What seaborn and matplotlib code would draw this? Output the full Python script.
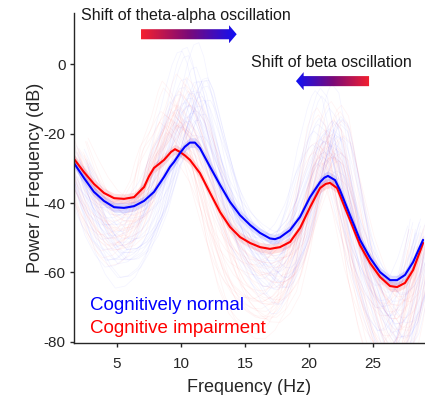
import numpy as np
import pandas as pd
import matplotlib
matplotlib.use("Agg")
import matplotlib.pyplot as plt
import seaborn as sns
from matplotlib.patches import Polygon
from matplotlib.colors import LinearSegmentedColormap

# ---- mean spectra ----
cn_freq = [1.64, 2.42, 3.20, 3.98, 4.77, 5.55, 6.33, 7.11, 7.89, 8.67, 9.14, 9.45,
           9.92, 10.30, 10.70, 11.09, 11.48, 12.27, 13.05, 13.83, 14.61, 15.39,
           16.17, 16.95, 17.34, 17.73, 18.52, 19.30, 20.08, 20.86, 21.20, 21.48,
           22.03, 22.42, 23.20, 23.98, 24.77, 25.55, 26.33, 26.88, 27.50, 28.13,
           28.91]
cn_power = [-28.5, -32.8, -36.8, -39.4, -41.2, -41.4, -40.9, -39.4, -36.8, -32.5,
            -29.6, -28.2, -25.6, -23.8, -22.6, -22.6, -24.2, -29.6, -34.8, -39.7,
            -43.5, -46.3, -48.6, -50.2, -50.4, -49.9, -47.8, -44.0, -38.3, -34.0,
            -32.7, -32.2, -33.4, -36.3, -43.5, -50.6, -55.8, -59.9, -62.2, -62.2,
            -60.7, -57.0, -50.6]

ci_freq = [1.64, 2.42, 3.20, 3.98, 4.77, 5.55, 6.33, 7.11, 7.50, 7.89, 8.30, 8.67,
           9.22, 9.53, 9.92, 10.30, 10.70, 11.48, 12.27, 13.05, 13.83, 14.61,
           15.39, 16.17, 16.95, 17.73, 18.52, 19.30, 20.08, 20.86, 21.30, 21.64,
           22.19, 22.66, 23.20, 23.98, 24.77, 25.55, 26.33, 26.88, 27.50, 28.13,
           28.91]
ci_power = [-27.3, -31.1, -34.5, -37.1, -38.6, -38.8, -38.3, -35.4, -32.3, -29.9,
            -28.7, -27.6, -25.3, -24.5, -25.3, -26.3, -27.6, -31.4, -37.1, -42.6,
            -46.9, -49.8, -51.5, -52.7, -53.2, -52.7, -51.2, -47.2, -41.2, -35.7,
            -34.5, -34.2, -35.7, -40.0, -44.9, -52.1, -57.3, -61.3, -63.9, -64.2,
            -63.0, -59.3, -51.5]

band_halfwidth = 1.4  # shaded error band (dB)

# ---- individual subjects (estimated peak shift, peak gain, level offset) ----
cn_subject_shift = [-1.1, -0.7, -0.3, 0.1, 0.4, 0.8, 1.1, -0.9, -0.5, 0.2, 0.6, 1.2,
                    -0.2, 0.5, -0.6, 0.9, -1.2, 0.0, 0.3, -0.4, 1.0, -0.8, 0.3,
                    -0.1, 0.7, -1.0, 0.4, 0.1, -0.3, 0.8, -0.6, 0.2, 1.0, -0.2, 0.5]
cn_subject_gain = [1.8, 2.5, 1.4, 2.9, 2.0, 1.6, 2.4, 1.7, 2.7, 1.3, 2.2, 1.9,
                   1.5, 2.6, 1.7, 2.4, 1.4, 2.0, 2.9, 1.6, 2.3, 1.8, 2.6, 1.9,
                   1.2, 2.5, 1.7, 2.1, 1.4, 1.9, 2.8, 1.3, 2.2, 1.5, 2.0]
cn_subject_offset = [3, -2, 5, -4, 1, 4, -1, -5, 2, 5, -3, 0, 6, -4, 2, -1, 4, -5,
                     3, -2, 1, 5, -4, 2, -1, 6, -3, 0, 2, -4, 3, -2, 0, 4, -3]

ci_subject_shift = [-1.2, -0.8, -0.4, 0.0, 0.3, 0.7, 1.0, -0.9, -0.5, 0.1, 0.5,
                    1.1, -0.3, 0.4, -0.7, 0.8, -1.1, 0.0, 0.2, -0.5, 0.9, -0.8,
                    0.2, -0.2, 0.6, -1.0, 0.3, 0.0, -0.4, 0.7, -0.6, 0.1, 0.9,
                    -0.3, 0.4]
ci_subject_gain = [2.0, 1.6, 2.7, 1.7, 2.4, 1.4, 2.2, 2.9, 1.9, 1.5, 2.6, 1.7,
                   2.3, 1.4, 2.0, 2.8, 1.7, 2.4, 1.5, 1.9, 2.6, 1.3, 2.3, 1.7,
                   2.1, 2.9, 1.5, 1.9, 2.5, 1.4, 2.0, 2.7, 1.8, 2.3, 1.6]
ci_subject_offset = [-2, 4, -5, 1, 3, -3, 5, -1, -4, 2, 0, 6, -2, 3, -5, 1, 4, -3,
                     2, -1, 5, -4, 0, 3, -2, 1, -5, 4, -1, 2, -3, 5, 0, -4, 2]

# ---- build long-form table of individual curves ----
def subjects(freq, power, shifts, gains, offsets, group):
    f = np.asarray(freq, float)
    p = np.asarray(power, float)
    base = p[0] + (p[-1] - p[0]) * (f - f[0]) / (f[-1] - f[0])
    rows = []
    for i, (s, g, o) in enumerate(zip(shifts, gains, offsets)):
        y = base + g * (p - base) + o
        rows.append(pd.DataFrame({"freq": f + s, "power": y,
                                  "subject": f"{group}{i}", "group": group}))
    return pd.concat(rows, ignore_index=True)

df_ind = pd.concat([
    subjects(ci_freq, ci_power, ci_subject_shift, ci_subject_gain, ci_subject_offset, "CI"),
    subjects(cn_freq, cn_power, cn_subject_shift, cn_subject_gain, cn_subject_offset, "CN"),
], ignore_index=True)

sns.set_theme(style="ticks")
plt.rcParams["font.family"] = ["Liberation Sans", "DejaVu Sans"]
plt.rcParams["axes.unicode_minus"] = False

W, H = 425, 395
fig = plt.figure(figsize=(W / 100, H / 100), dpi=100)
ax = fig.add_axes([74 / W, 52 / H, 351 / W, (343 - 12.7) / H])

sns.lineplot(data=df_ind, x="freq", y="power", hue="group", units="subject",
             estimator=None, sort=False, palette={"CN": "#0000ff", "CI": "#ff0000"},
             alpha=0.045, lw=0.6, legend=False, ax=ax)

for fr, pw, col in [(ci_freq, ci_power, "#ff0000"), (cn_freq, cn_power, "#0000ff")]:
    fr = np.asarray(fr); pw = np.asarray(pw)
    ax.fill_between(fr, pw - band_halfwidth, pw + band_halfwidth, color=col,
                    alpha=0.12, lw=0)
for fr, pw, col in [(ci_freq, ci_power, "#ff0000"), (cn_freq, cn_power, "#0000ff")]:
    sns.lineplot(x=fr, y=pw, color=col, lw=1.5, sort=False, ax=ax)

ax.set_xlim(1.64, 29.06)
ax.set_ylim(-80.3, 14.8)
ax.set_xticks([5, 10, 15, 20, 25])
ax.set_yticks([0, -20, -40, -60, -80])
ax.set_xlabel("Frequency (Hz)", fontsize=13, color="#262626", labelpad=6)
ax.set_ylabel("Power / Frequency (dB)", fontsize=13, color="#262626", labelpad=0)
ax.tick_params(direction="out", length=3, width=1, colors="#262626",
               labelsize=11, pad=3)
ax.tick_params(axis="x", pad=7)
sns.despine(ax=ax)
for s in ["left", "bottom"]:
    ax.spines[s].set_color("#262626")
    ax.spines[s].set_linewidth(1.0)

# legend-like texts
ax.text(2.9, -69.4, "Cognitively normal", color="#0000ff", fontsize=13.5, va="center")
ax.text(2.9, -76.0, "Cognitive impairment", color="#ff0000", fontsize=13.5, va="center")

# annotations
ax.text(2.2, 14.1, "Shift of theta-alpha oscillation", fontsize=11.5, color="#1a1a1a",
        va="center", clip_on=False)
ax.text(15.45, 0.6, "Shift of beta oscillation", fontsize=11.5, color="#1a1a1a",
        va="center", clip_on=False)

cmap = LinearSegmentedColormap.from_list("rb", ["#f5202e", "#7a0a78", "#1010f5"])

def grad_arrow(x0, x1, yc, body, head, headlen, left=False):
    # x0 = tail, x1 = tip
    d = -1 if left else 1
    xb = x1 - d * headlen
    pts = [(x0, yc - body), (xb, yc - body), (xb, yc - head), (x1, yc),
           (xb, yc + head), (xb, yc + body), (x0, yc + body)]
    poly = Polygon(pts, closed=True, facecolor="none", edgecolor="none")
    ax.add_patch(poly)
    grad = np.linspace(0, 1, 256).reshape(1, -1)
    if left:
        grad = grad[:, ::-1]
    xmin, xmax = min(x0, x1), max(x0, x1)
    im = ax.imshow(grad, cmap=cmap, aspect="auto",
                   extent=[xmin, xmax, yc - head, yc + head], zorder=5)
    im.set_clip_path(poly)

grad_arrow(6.875, 14.35, 8.6, 1.45, 2.6, 0.6)
grad_arrow(24.69, 18.98, -4.9, 1.45, 2.6, 0.6, left=True)
ax.set_xlim(1.64, 29.06)
ax.set_ylim(-80.3, 14.8)

fig.savefig("out.png", dpi=100)
